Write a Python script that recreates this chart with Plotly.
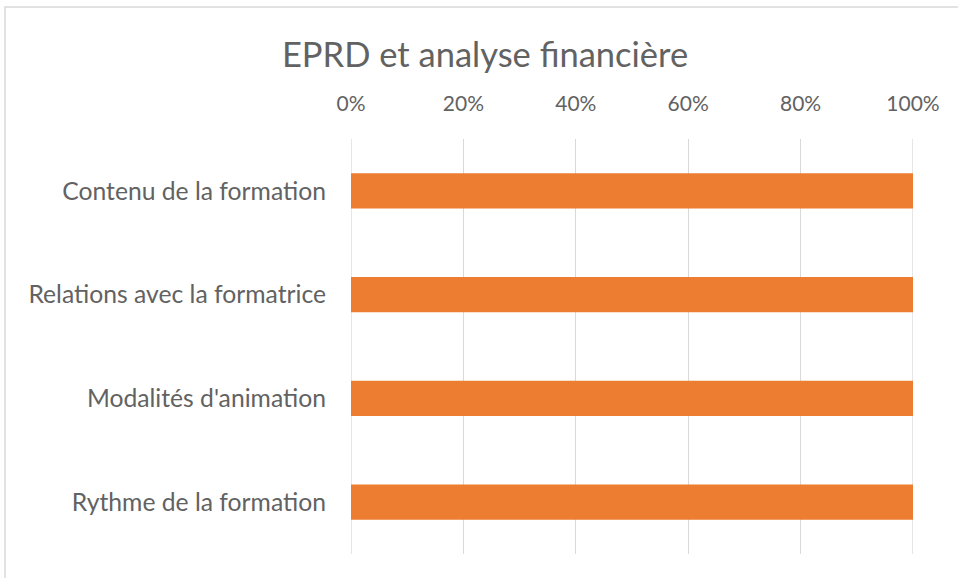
import plotly.graph_objects as go

categories = ["Contenu de la formation", "Relations avec la formatrice",
              "Modalités d'animation", "Rythme de la formation"]
values = [100, 100, 100, 100]
tick_vals = [0, 20, 40, 60, 80, 100]
tick_text = ["0%", "20%", "40%", "60%", "80%", "100%"]

FONT = "Lato, Open Sans, sans-serif"
TXT = "#626262"
GRID = "#D9D9D9"

fig = go.Figure(go.Bar(
    x=values, y=categories, orientation="h",
    marker=dict(color="#ED7D31", line=dict(width=0)),
    width=0.34, hoverinfo="x+y",
))

L, R, T, B = 351, 45, 139, 24
W, H = 958, 578
pw, ph = W - L - R, H - T - B

# edge gridlines (0% and 100%) that Plotly skips at the plot borders
edge_lines = [dict(type="line", xref="x", yref="paper", x0=v, x1=v, y0=0, y1=1,
                   line=dict(color=GRID, width=1.3), layer="below")
              for v in (tick_vals[0], tick_vals[-1])]

fig.update_layout(
    width=W, height=H,
    margin=dict(l=L, r=R, t=T, b=B),
    paper_bgcolor="white", plot_bgcolor="white",
    title=dict(text="EPRD et analyse financière", x=485 / W,
               xanchor="center", y=1 - 55 / H, yanchor="middle",
               font=dict(family=FONT, size=34.5, color=TXT)),
    xaxis=dict(side="top", range=[0, 100], tickvals=tick_vals, ticktext=tick_text,
               showgrid=True, gridcolor=GRID, gridwidth=1.3, zeroline=False,
               showline=False, ticks="", tickfont=dict(family=FONT, size=21, color=TXT),
               ticklabelstandoff=23, fixedrange=True),
    yaxis=dict(categoryorder="array", categoryarray=categories, autorange="reversed",
               showgrid=False, zeroline=False, showline=False, ticks="",
               tickfont=dict(family=FONT, size=24.7, color=TXT),
               ticklabelstandoff=24),
    showlegend=False,
    shapes=[dict(type="rect", xref="paper", yref="paper",
                 x0=(5 - L) / pw, x1=(W + 5 - L) / pw,
                 y0=(H - B - (H + 5)) / ph, y1=(H - B - 7) / ph,
                 line=dict(color=GRID, width=1.5), fillcolor="rgba(0,0,0,0)",
                 layer="below")] + edge_lines,
)

fig.write_html("out.html", config={"displayModeBar": False},
               post_script="document.body.style.margin='0';")
